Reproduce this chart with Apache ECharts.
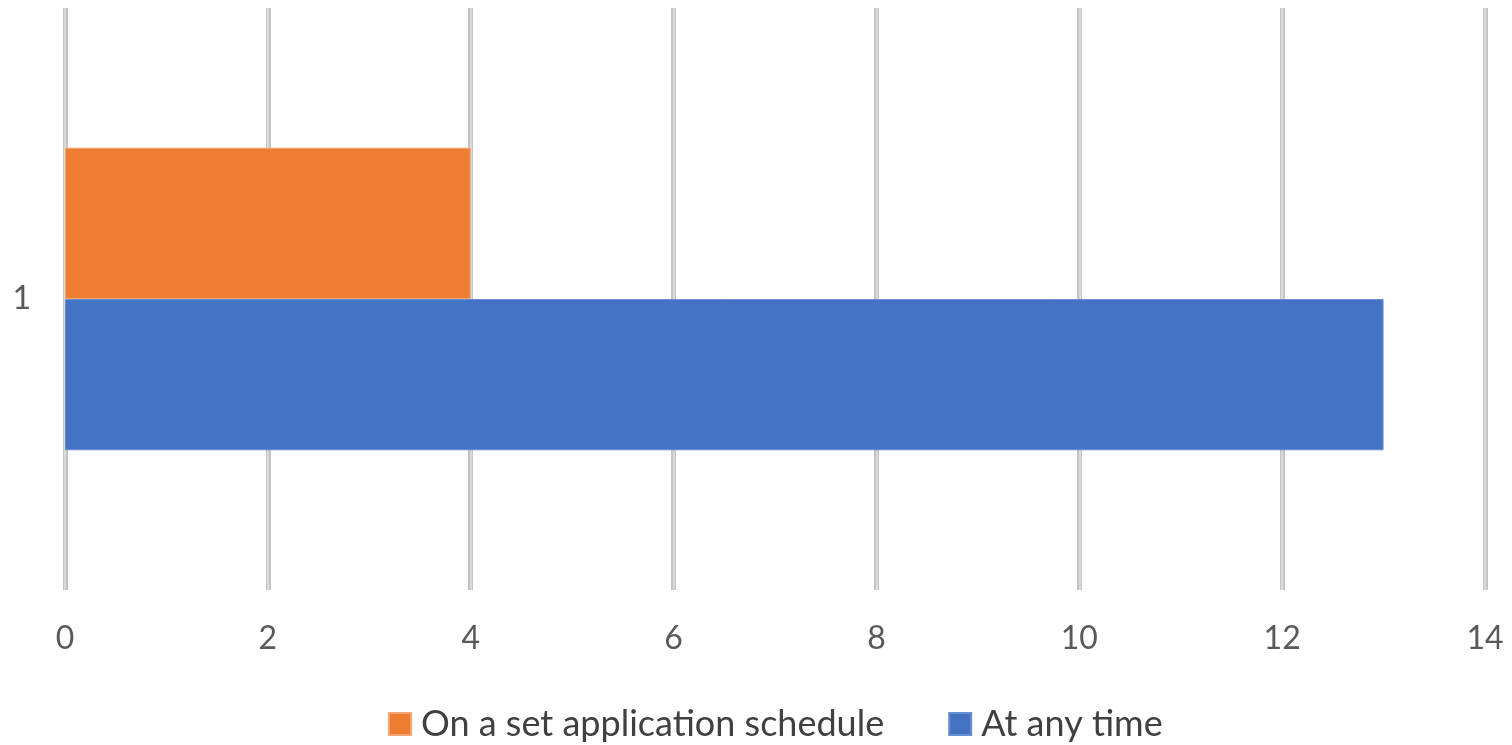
<!DOCTYPE html>
<html>
<head>
<meta charset="utf-8">
<script src="https://cdn.jsdelivr.net/npm/echarts@6/dist/echarts.min.js"></script>
<style>
  html, body { margin: 0; padding: 0; background: #ffffff; }
  #chart { width: 1512px; height: 745px; }
</style>
</head>
<body>
<div id="chart"></div>
<script>
// Application timing: how respondents are able to apply
const categories = ['1'];
const scheduleValues = [4];
const anyTimeValues = [13];
const seriesNames = ['On a set application schedule', 'At any time'];
const xTicks = [0, 2, 4, 6, 8, 10, 12, 14];

const FONT = 'Lato, "Open Sans", sans-serif';
const TEXT = '#595959';

const chart = echarts.init(document.getElementById('chart'), null, { renderer: 'canvas' });

const gridBox = { left: 65, right: 27, top: 8, bottom: 155 };

chart.setOption({
  animation: false,
  backgroundColor: '#ffffff',
  grid: [
    Object.assign({}, gridBox, { containLabel: false }),
    Object.assign({}, gridBox, { containLabel: false })
  ],
  legend: {
    data: seriesNames,
    bottom: -2,
    left: 383,
    itemWidth: 22,
    itemHeight: 22,
    itemGap: 64,
    icon: 'rect',
    textStyle: { fontFamily: FONT, fontSize: 36, color: '#404040', padding: [0, 0, 0, 5] }
  },
  xAxis: [
    {
      // outer grey edge of each vertical gridline, plus tick labels
      gridIndex: 0,
      type: 'value',
      min: xTicks[0],
      max: xTicks[xTicks.length - 1],
      interval: 2,
      axisLine: { show: false },
      axisTick: { show: false },
      axisLabel: {
        fontFamily: FONT, fontSize: 32, color: TEXT, margin: 33
      },
      splitLine: { show: true, lineStyle: { color: '#c4c4c4', width: 5 } }
    },
    {
      // lighter centre stroke of the gridlines
      gridIndex: 1,
      type: 'value',
      min: xTicks[0],
      max: xTicks[xTicks.length - 1],
      interval: 2,
      axisLine: { show: false },
      axisTick: { show: false },
      axisLabel: { show: false },
      splitLine: { show: true, lineStyle: { color: '#e2e2e2', width: 1.5 } }
    }
  ],
  yAxis: [
    {
      gridIndex: 0,
      type: 'category',
      data: categories,
      axisLine: { show: false },
      axisTick: { show: false },
      axisLabel: { fontFamily: FONT, fontSize: 32, color: TEXT, margin: 34 }
    },
    {
      gridIndex: 1,
      type: 'category',
      data: categories,
      axisLine: { show: false },
      axisTick: { show: false },
      axisLabel: { show: false }
    }
  ],
  series: [
    {
      name: seriesNames[0],
      type: 'bar',
      xAxisIndex: 1,
      yAxisIndex: 1,
      data: scheduleValues,
      barGap: '0%',
      barCategoryGap: '48%',
      itemStyle: { color: '#ED7D31', borderColor: '#f2a572', borderWidth: 1 }
    },
    {
      name: seriesNames[1],
      type: 'bar',
      xAxisIndex: 1,
      yAxisIndex: 1,
      data: anyTimeValues,
      barGap: '0%',
      barCategoryGap: '48%',
      itemStyle: { color: '#4472C4', borderColor: '#6a8fd0', borderWidth: 1 }
    }
  ]
});
</script>
</body>
</html>
